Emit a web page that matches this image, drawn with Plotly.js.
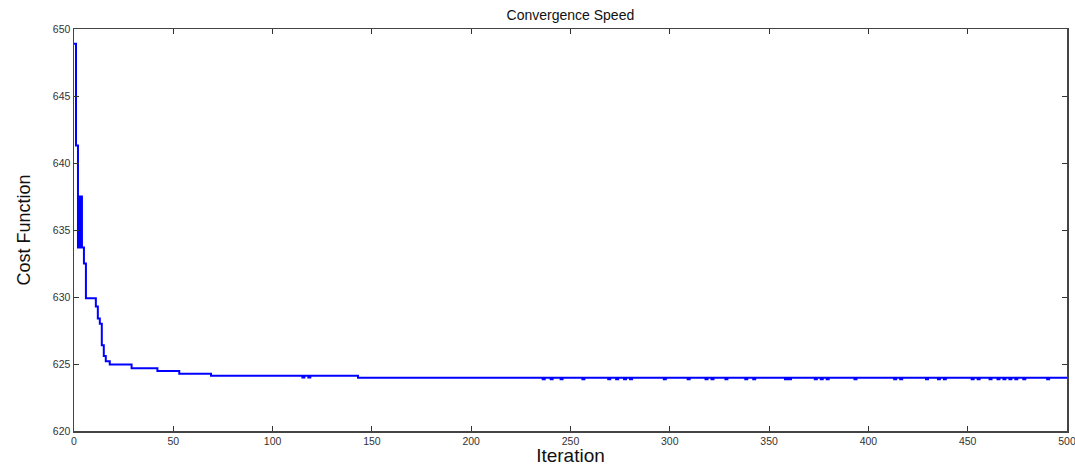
<!DOCTYPE html>
<html>
<head>
<meta charset="utf-8">
<script src="https://cdn.plot.ly/plotly-3.0.1.min.js"></script>
<style>
  html, body { margin: 0; padding: 0; background: #ffffff; }
  #chart { width: 1075px; height: 466px; }
</style>
</head>
<body>
<div id="chart"></div>
<script>
// Iteration numbers where the cost changes (step-after / "hv" line)
const iterations = [
  0, 1, 2, 3, 4, 5, 6, 11, 12, 13, 14, 15, 16, 18, 29, 42, 53, 69,
  115, 116, 118, 119, 143,
  236, 237, 240, 241, 245, 246, 256, 257, 269, 270, 273, 274, 277, 278, 280, 281,
  297, 298, 309, 310, 318, 319, 321, 322, 328, 329, 338, 339, 342, 343,
  358, 359, 360, 361, 373, 374, 376, 377, 379, 380, 393, 394,
  413, 414, 416, 417, 429, 430, 435, 436, 438, 439, 452, 453, 455, 456,
  461, 462, 465, 466, 468, 469, 471, 472, 474, 475, 478, 479, 490, 491,
  500
];
// Cost function values
const cost = [
  648.9, 641.3, 633.7, 637.5, 633.7, 632.5, 629.9, 629.3, 628.4, 628.0, 626.4, 625.6, 625.2, 624.97, 624.68, 624.48, 624.28, 624.12,
  624.0, 624.12, 624.0, 624.12, 623.97,
  623.87, 623.97, 623.87, 623.97, 623.87, 623.97, 623.87, 623.97, 623.87, 623.97, 623.87, 623.97, 623.87, 623.97, 623.87, 623.97,
  623.87, 623.97, 623.87, 623.97, 623.87, 623.97, 623.87, 623.97, 623.87, 623.97, 623.87, 623.97, 623.87, 623.97,
  623.87, 623.97, 623.87, 623.97, 623.87, 623.97, 623.87, 623.97, 623.87, 623.97, 623.87, 623.97,
  623.87, 623.97, 623.87, 623.97, 623.87, 623.97, 623.87, 623.97, 623.87, 623.97, 623.87, 623.97, 623.87, 623.97,
  623.87, 623.97, 623.87, 623.97, 623.87, 623.97, 623.87, 623.97, 623.87, 623.97, 623.87, 623.97, 623.87, 623.97,
  623.97
];
const xTicks = [0, 50, 100, 150, 200, 250, 300, 350, 400, 450, 500];
const yTicks = [620, 625, 630, 635, 640, 645, 650];

const trace = {
  x: iterations,
  y: cost,
  type: 'scatter',
  mode: 'lines',
  line: { color: '#0000ff', width: 2, shape: 'hv' },
  cliponaxis: false,
  hoverinfo: 'x+y'
};

const axisCommon = {
  showgrid: false,
  zeroline: false,
  showline: true,
  linecolor: '#444444',
  linewidth: 1.5,
  mirror: 'ticks',
  ticks: 'inside',
  ticklen: 5,
  tickwidth: 1,
  tickcolor: '#333333',
  ticklabeloverflow: 'allow',
  tickfont: { family: 'Liberation Sans, Arial, sans-serif', size: 10.5, color: '#333333' }
};

const layout = {
  width: 1075,
  height: 466,
  margin: { l: 74, r: 8, t: 29, b: 35 },
  paper_bgcolor: '#ffffff',
  plot_bgcolor: '#ffffff',
  showlegend: false,
  title: {
    text: 'Convergence Speed',
    font: { family: 'Liberation Sans, Arial, sans-serif', size: 14, color: '#111111' },
    x: 0.5306, xanchor: 'center', xref: 'container',
    y: 0.968, yanchor: 'middle', yref: 'container'
  },
  xaxis: Object.assign({}, axisCommon, {
    range: [0, 500],
    tickvals: xTicks,
    ticktext: xTicks.map(String),
    title: {
      text: 'Iteration',
      font: { family: 'Liberation Sans, Arial, sans-serif', size: 19, color: '#111111' },
      standoff: 4
    },
    automargin: false
  }),
  yaxis: Object.assign({}, axisCommon, {
    range: [620, 650],
    tickvals: yTicks,
    ticktext: yTicks.map(String),
    title: {
      text: 'Cost Function',
      font: { family: 'Liberation Sans, Arial, sans-serif', size: 18, color: '#111111' },
      standoff: 17
    },
    automargin: false
  })
};

Plotly.newPlot('chart', [trace], layout, { staticPlot: true, displayModeBar: false });
</script>
</body>
</html>
